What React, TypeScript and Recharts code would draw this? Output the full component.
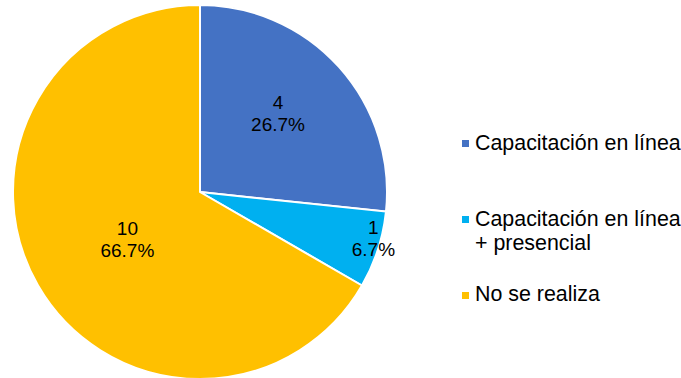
import React from "react";
import { PieChart, Pie, Cell, Legend } from "recharts";

const categories = ["Capacitación en línea", "Capacitación en línea + presencial", "No se realiza"];
const legendLines = [["Capacitación en línea"], ["Capacitación en línea", "+ presencial"], ["No se realiza"]];
const values = [4, 1, 10];
const colors = ["#4472C4", "#00B0F0", "#FFC000"];
const labelRadiusFactor = [0.59, 0.96, 0.463];
const labelAngleShift = 3;
const legendTops = [130.5, 206.5, 282.2];

const data = categories.map((name, i) => ({ name, value: values[i] }));
const total = values.reduce((a, b) => a + b, 0);
const RAD = Math.PI / 180;

const renderLabel = (props: any) => {
  const { cx, cy, midAngle, outerRadius, index, value } = props;
  const r = outerRadius * labelRadiusFactor[index];
  const a = (midAngle + labelAngleShift) * RAD;
  const x = cx + r * Math.cos(-a);
  const y = cy + r * Math.sin(-a);
  const pct = ((value / total) * 100).toFixed(1) + "%";
  return (
    <text
      x={x}
      y={y}
      textAnchor="middle"
      fill="#000"
      style={{ fontFamily: "'Liberation Sans', Arial, sans-serif", fontSize: 19 }}
    >
      <tspan x={x} y={y - 11} dominantBaseline="central">{value}</tspan>
      <tspan x={x} y={y + 11} dominantBaseline="central">{pct}</tspan>
    </text>
  );
};

const renderLegend = () => (
  <div style={{ position: "relative", width: 681, height: 378 }}>
    {legendLines.map((lines, i) => (
      <div
        key={i}
        style={{
          position: "absolute",
          left: 462,
          top: legendTops[i],
          fontFamily: "'Liberation Sans', Arial, sans-serif",
          fontSize: 21.4,
          lineHeight: "24px",
          color: "#000",
          whiteSpace: "nowrap",
        }}
      >
        <span
          style={{
            position: "absolute",
            left: 0,
            top: 9.5,
            width: 7,
            height: 7,
            background: colors[i],
          }}
        />
        <div style={{ marginLeft: 13 }}>
          {lines.map((l, j) => (
            <div key={j}>{l}</div>
          ))}
        </div>
      </div>
    ))}
  </div>
);

export default function App() {
  return (
    <div style={{ position: "absolute", left: 0, top: 0, width: 681, height: 378, background: "#fff" }}>
      <PieChart width={681} height={378} margin={{ top: 0, right: 0, bottom: 0, left: 0 }}>
        <Pie
          data={data}
          dataKey="value"
          nameKey="name"
          cx={200}
          cy={192}
          outerRadius={187}
          startAngle={90}
          endAngle={-270}
          stroke="#fff"
          strokeWidth={2}
          label={renderLabel}
          labelLine={false}
          isAnimationActive={false}
        >
          {data.map((d, i) => (
            <Cell key={i} fill={colors[i]} />
          ))}
        </Pie>
        <Legend
          content={renderLegend}
          wrapperStyle={{ position: "absolute", left: 0, top: 0, width: 681, height: 378 }}
        />
      </PieChart>
    </div>
  );
}
